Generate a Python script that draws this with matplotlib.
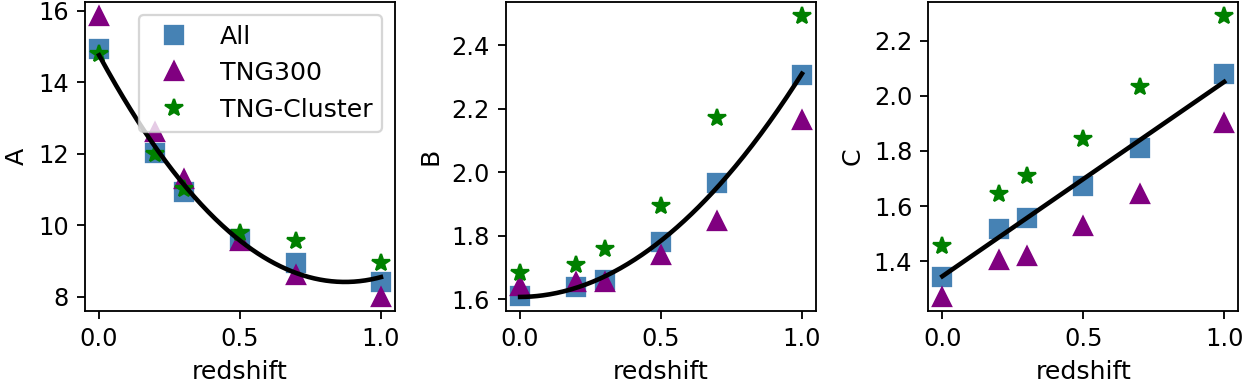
import numpy as np
import matplotlib
matplotlib.use('Agg')
import matplotlib.pyplot as plt

redshift = [0.0, 0.2, 0.3, 0.5, 0.7, 1.0]

A_all = [14.93, 12.01, 10.94, 9.62, 8.95, 8.43]
A_tng300 = [15.85, 12.61, 11.29, 9.55, 8.60, 8.00]
A_cluster = [14.80, 12.00, 11.03, 9.78, 9.56, 8.95]

B_all = [1.610, 1.640, 1.662, 1.780, 1.966, 2.306]
B_tng300 = [1.642, 1.654, 1.655, 1.738, 1.846, 2.165]
B_cluster = [1.682, 1.708, 1.759, 1.893, 2.172, 2.492]

C_all = [1.344, 1.517, 1.557, 1.672, 1.810, 2.078]
C_tng300 = [1.271, 1.404, 1.420, 1.529, 1.644, 1.903]
C_cluster = [1.457, 1.645, 1.711, 1.844, 2.031, 2.289]

panels = [('A', A_all, A_tng300, A_cluster, 2),
          ('B', B_all, B_tng300, B_cluster, 2),
          ('C', C_all, C_tng300, C_cluster, 1)]

fig = plt.figure(figsize=(1243/165, 385/165), dpi=165)
lefts = [0.0684, 0.4071, 0.7468]

zz = np.linspace(0, 1, 200)
for i, (name, yall, y300, yclu, deg) in enumerate(panels):
    ax = fig.add_axes([lefts[i], 0.1922, 0.2494, 0.8026])
    ax.plot(redshift, yall, 's', color='steelblue', ms=8, label='All')
    ax.plot(redshift, y300, '^', color='purple', ms=8, label='TNG300')
    ax.plot(redshift, yclu, '*', color='green', ms=8, label='TNG-Cluster')
    # polynomial fit to the "All" points
    coef = np.polyfit(redshift, yall, deg)
    ax.plot(zz, np.polyval(coef, zz), color='black', lw=2)
    ax.tick_params(labelsize=10.5)
    ax.set_xlabel('redshift', fontsize=11)
    ax.set_ylabel(name, fontsize=11)
    if i == 0:
        ax.legend(loc='upper right', fontsize=11)

fig.savefig('out.png', dpi=165)
